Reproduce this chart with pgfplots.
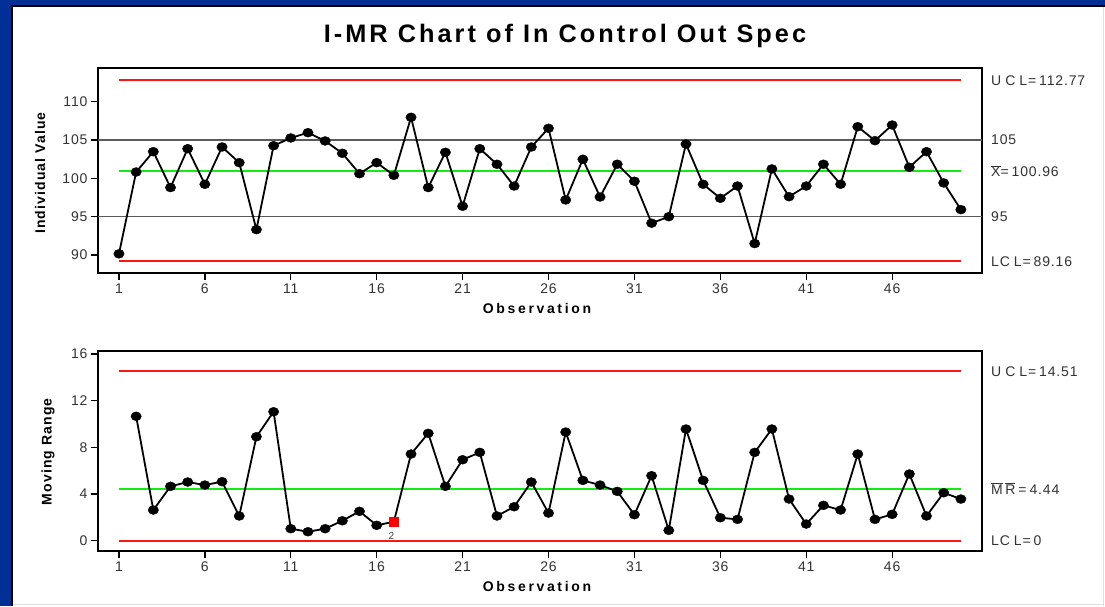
\documentclass[border=0pt]{standalone}
\usepackage{fontspec}
\setmainfont{Liberation Sans}
\newfontfamily\tickfont[LetterSpace=6]{Liberation Sans}
\newfontfamily\ylabfont[LetterSpace=8]{Liberation Sans}
\newfontfamily\xlabfont[LetterSpace=19]{Liberation Sans}
\newfontfamily\titfont[LetterSpace=12]{Liberation Sans}
\usepackage{pgfplots}
\usepackage{pgfplotstable}
\pgfplotsset{compat=1.18}
\definecolor{bgblue}{RGB}{0,48,150}
\definecolor{clred}{RGB}{255,20,20}
\definecolor{clgreen}{RGB}{20,235,20}
\definecolor{refgrey}{RGB}{90,90,90}

\pgfplotstableread{
obs ival
1 90.15
2 100.83
3 103.48
4 98.80
5 103.87
6 99.23
7 104.09
8 102.05
9 93.31
10 104.26
11 105.27
12 105.96
13 104.88
14 103.27
15 100.61
16 102.05
17 100.40
18 107.97
19 98.80
20 103.40
21 96.36
22 103.87
23 101.84
24 99.00
25 104.09
26 106.53
27 97.18
28 102.49
29 97.57
30 101.84
31 99.62
32 94.15
33 95.00
34 104.48
35 99.23
36 97.40
37 99.00
38 91.49
39 101.23
40 97.61
41 99.00
42 101.84
43 99.23
44 106.74
45 104.92
46 106.96
47 101.45
48 103.48
49 99.40
50 95.92
}\indtable

\pgfplotstableread{
obs mr
2 10.66
3 2.63
4 4.66
5 5.03
6 4.77
7 5.06
8 2.12
9 8.91
10 11.05
11 1.03
12 0.77
13 1.03
14 1.71
15 2.52
16 1.32
17 1.63
18 7.43
19 9.20
20 4.66
21 6.94
22 7.57
23 2.12
24 2.91
25 5.03
26 2.37
27 9.31
28 5.17
29 4.77
30 4.23
31 2.23
32 5.57
33 0.89
34 9.57
35 5.17
36 1.97
37 1.83
38 7.57
39 9.57
40 3.57
41 1.43
42 3.03
43 2.63
44 7.43
45 1.83
46 2.26
47 5.72
48 2.12
49 4.11
50 3.57
}\mrtable

\pgfplotsset{
  imrstyle/.style={
    scale only axis,
    width=884pt,
    xmin=-0.22, xmax=51.23,
    xtick={1,6,...,46},
    tick pos=left,
    tick align=outside,
    major tick length=7pt,
    tick style={black, line width=1.3pt},
    axis line style={black, line width=1.9pt},
    /pgf/number format/assume math mode=true,
    ticklabel style={font=\tickfont\fontsize{14}{14}\selectfont, text=black!80},
    clip=false,
  },
  dots/.style={black, line width=1.8pt, mark=*, mark size=5.2pt,
    mark options={yscale=0.86, fill=black, line width=0.4pt}},
}
\tikzset{
  rlab/.style={anchor=west, font=\tickfont\fontsize{14}{14}\selectfont, text=black!80, inner sep=0pt},
}

\begin{document}
\begin{tikzpicture}
\path[use as bounding box] (0pt,0pt) rectangle (1105pt,606pt);
\fill[bgblue] (0pt,0pt) rectangle (1105pt,606pt);
\fill[white] (13pt,0pt) rectangle (1105pt,599pt);
\draw[black, line width=2pt] (12pt,0pt) -- (12pt,600pt) -- (1105pt,600pt);
\draw[black!12, line width=1pt] (1103pt,0pt) -- (1103pt,599pt);
\draw[black!12, line width=1pt] (13pt,2pt) -- (1103pt,2pt);

\node[font=\titfont\bfseries\fontsize{25.3}{25.3}\selectfont, anchor=center] at (565pt,570.5pt) {I-MR Chart of In Control Out Spec};

% ---------- Individual chart ----------
\begin{axis}[imrstyle, at={(98pt,333pt)}, anchor=south west, height=205pt,
  ymin=87.65, ymax=114.4, ytick={90,95,...,110}]
  \addplot[refgrey, line width=1.6pt] coordinates {(-0.22,105) (51.23,105)};
  \addplot[refgrey, line width=1.6pt] coordinates {(-0.22,95) (51.23,95)};
  \addplot[clred, line width=2pt] coordinates {(1,112.77) (50,112.77)};
  \addplot[clred, line width=2pt] coordinates {(1,89.16) (50,89.16)};
  \addplot[clgreen, line width=1.8pt] coordinates {(1,100.96) (50,100.96)};
  \addplot[dots] table[x=obs, y=ival] {\indtable};
  \node[rlab] at (axis cs:51.23,112.77) {\hspace{9pt}U\kern4pt C\kern4pt L=\kern3pt 112.77};
  \node[rlab] at (axis cs:51.23,105) {\hspace{9pt}105};
  \node[rlab] at (axis cs:51.23,100.96) {\hspace{9pt}$\overline{\mbox{X}}$=\kern3pt 100.96};
  \node[rlab] at (axis cs:51.23,95) {\hspace{9pt}95};
  \node[rlab] at (axis cs:51.23,89.16) {\hspace{9pt}LC\kern4pt L=\kern3pt 89.16};
\end{axis}

% ---------- Moving range chart ----------
\begin{axis}[imrstyle, at={(98pt,55pt)}, anchor=south west, height=200.3pt,
  ymin=-0.88, ymax=16.28, ytick={0,4,...,16}]
  \addplot[clred, line width=2pt] coordinates {(1,14.51) (50,14.51)};
  \addplot[clred, line width=2pt] coordinates {(1,0) (50,0)};
  \addplot[clgreen, line width=1.8pt] coordinates {(1,4.44) (50,4.44)};
  \addplot[black, line width=1.8pt, mark=none] table[x=obs, y=mr] {\mrtable};
  \addplot[dots, only marks, skip coords between index={15}{16}] table[x=obs, y=mr] {\mrtable};
  \addplot[only marks, mark=square*, mark size=4.5pt, mark options={fill=red, draw=red}] coordinates {(17,1.63)};
  \node[font=\fontsize{10}{10}\selectfont, text=black!75, anchor=north] at (axis cs:16.85,1.0) {2};
  \node[rlab] at (axis cs:51.23,14.51) {\hspace{9pt}U\kern4pt C\kern4pt L=\kern3pt 14.51};
  \node[rlab] at (axis cs:51.23,4.44) {\hspace{9pt}$\overline{\mbox{M}}\,\overline{\mbox{R}}$\kern3pt=\kern3pt 4.44};
  \node[rlab] at (axis cs:51.23,0) {\hspace{9pt}LC\kern4pt L=\kern3pt 0};
\end{axis}

\node[font=\ylabfont\bfseries\fontsize{14}{14}\selectfont, rotate=90] at (40pt,433pt) {Individual Value};
\node[font=\xlabfont\bfseries\fontsize{14}{14}\selectfont] at (537pt,298pt) {Observation};
\node[font=\ylabfont\bfseries\fontsize{14}{14}\selectfont, rotate=90] at (48pt,154.3pt) {Moving Range};
\node[font=\xlabfont\bfseries\fontsize{14}{14}\selectfont] at (537pt,19.3pt) {Observation};
\end{tikzpicture}
\end{document}
